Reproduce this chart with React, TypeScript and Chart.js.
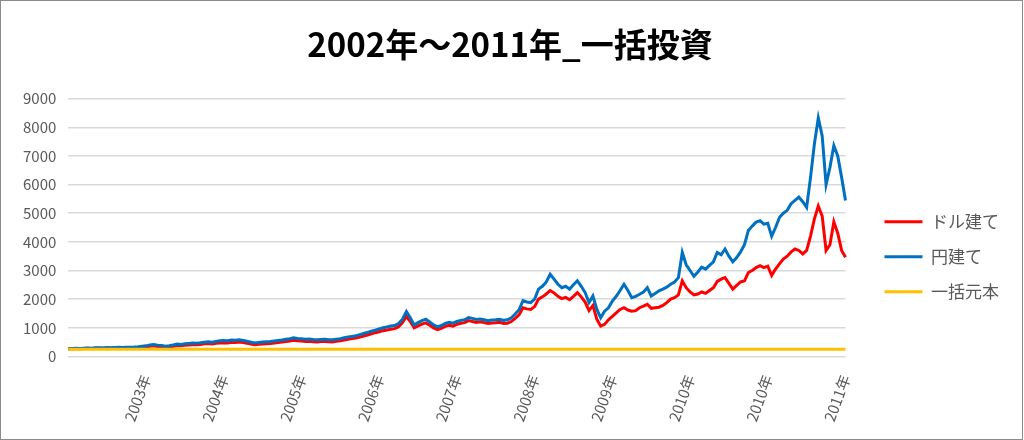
import React, { useEffect, useRef } from "react";
import { Chart, registerables } from "chart.js";

Chart.register(...registerables);

const TITLE = "2002年～2011年_一括投資";
const SERIES_NAMES = ["ドル建て", "円建て", "一括元本"];
const YEAR_TICKS = ["2003年", "2004年", "2005年", "2006年", "2007年", "2008年", "2009年", "2010年", "2010年", "2011年"];
const TICK_INTERVAL = 20;
const PRINCIPAL = 250;

// ドル建て
const USD = [
  265, 268, 275, 272, 280, 283, 278, 285, 290, 284,
  292, 288, 295, 300, 292, 296, 300, 305, 312, 320,
  330, 355, 370, 350, 335, 320, 332, 355, 380, 372,
  390, 400, 412, 408, 420, 440, 450, 435, 458, 470,
  480, 472, 495, 487, 500, 484, 458, 432, 410, 425,
  438, 445, 450, 468, 485, 500, 520, 540, 565, 548,
  535, 522, 530, 515, 508, 520, 525, 512, 508, 528,
  548, 575, 602, 622, 640, 675, 712, 750, 790, 830,
  865, 900, 925, 950, 970, 1040, 1180, 1400, 1220, 1000,
  1070, 1130, 1170, 1090, 1000, 940, 985, 1050, 1090, 1060,
  1120, 1160, 1180, 1250, 1220, 1190, 1210, 1180, 1150, 1170,
  1180, 1190, 1150, 1160, 1220, 1330, 1450, 1700, 1660, 1640,
  1740, 2000, 2080, 2180, 2300, 2220, 2100, 2020, 2060, 1980,
  2100, 2230, 2080, 1900, 1600, 1780, 1300, 1060, 1120, 1280,
  1400, 1520, 1640, 1700, 1620, 1580, 1600, 1700, 1760, 1820,
  1680, 1700, 1720, 1780, 1880, 2000, 2050, 2150, 2640, 2400,
  2250, 2150, 2180, 2250, 2200, 2300, 2400, 2620, 2700, 2750,
  2550, 2350, 2480, 2600, 2640, 2930, 3000, 3100, 3170, 3100,
  3150, 2830, 3050, 3230, 3400, 3500, 3650, 3750, 3700, 3580,
  3700, 4200, 4800, 5250, 4900, 3700, 3900, 4700, 4300, 3700,
  3460,
];

// 円建て
const JPY = [
  270, 275, 285, 280, 290, 295, 288, 300, 305, 298,
  310, 305, 315, 320, 312, 318, 325, 330, 340, 355,
  370, 400, 420, 395, 380, 360, 375, 400, 430, 420,
  440, 455, 470, 465, 480, 500, 510, 495, 520, 545,
  560, 550, 575, 565, 580, 560, 530, 500, 470, 490,
  505, 515, 520, 540, 560, 575, 600, 620, 650, 630,
  615, 600, 610, 590, 580, 595, 600, 585, 580, 600,
  620, 650, 680, 700, 720, 760, 800, 840, 880, 920,
  960, 1000, 1030, 1060, 1080, 1150, 1300, 1570, 1350, 1100,
  1180, 1250, 1300, 1200, 1100, 1030, 1080, 1150, 1190, 1160,
  1220, 1260, 1280, 1360, 1330, 1290, 1310, 1280, 1250, 1270,
  1280, 1300, 1260, 1280, 1350, 1480, 1630, 1950, 1900, 1880,
  2000, 2350, 2450, 2600, 2870, 2700, 2520, 2400, 2450, 2350,
  2500, 2640, 2450, 2230, 1880, 2110, 1650, 1350, 1580, 1700,
  1930, 2100, 2300, 2520, 2300, 2050, 2100, 2170, 2250, 2400,
  2110, 2200, 2290, 2350, 2420, 2520, 2600, 2750, 3630, 3200,
  3000, 2800, 2950, 3120, 3050, 3180, 3300, 3630, 3550, 3750,
  3500, 3300, 3450, 3650, 3900, 4400, 4550, 4690, 4740, 4620,
  4650, 4200, 4500, 4850, 5000, 5100, 5330, 5450, 5560, 5400,
  5200, 6250, 7420, 8330, 7700, 6000, 6600, 7360, 7000, 6250,
  5440,
];

const CATEGORY_LABELS = JPY.map((_, i) =>
  i > 0 && i % TICK_INTERVAL === 0 ? YEAR_TICKS[i / TICK_INTERVAL - 1] : ""
);
const PRINCIPAL_SERIES = JPY.map(() => PRINCIPAL);

const FONT = '"Noto Sans CJK JP", "Noto Sans", sans-serif';
const TICK_COLOR = "#595959";

export default function App() {
  const canvasRef = useRef<HTMLCanvasElement | null>(null);

  useEffect(() => {
    if (!canvasRef.current) return;
    const chart = new Chart(canvasRef.current, {
      type: "line",
      data: {
        labels: CATEGORY_LABELS,
        datasets: [
          {
            label: SERIES_NAMES[2],
            data: PRINCIPAL_SERIES,
            borderColor: "#FFC000",
            backgroundColor: "#FFC000",
            borderWidth: 3,
            pointRadius: 0,
          },
          {
            label: SERIES_NAMES[1],
            data: JPY,
            borderColor: "#0070C0",
            backgroundColor: "#0070C0",
            borderWidth: 3,
            pointRadius: 0,
          },
          {
            label: SERIES_NAMES[0],
            data: USD,
            borderColor: "#FF0000",
            backgroundColor: "#FF0000",
            borderWidth: 3,
            pointRadius: 0,
          },
        ],
      },
      options: {
        animation: false,
        responsive: false,
        devicePixelRatio: 1,
        layout: { padding: { left: 10, right: 13, top: 0, bottom: 7 } },
        plugins: {
          title: {
            display: true,
            text: TITLE,
            color: "#000000",
            font: { family: FONT, size: 33, weight: "bold" },
            padding: { top: 24, bottom: 34 },
          },
          legend: {
            position: "right",
            reverse: true,
            title: { display: true, text: "", padding: { top: 66, bottom: 0 } },
            labels: {
              boxWidth: 38,
              boxHeight: 3,
              padding: 18,
              color: TICK_COLOR,
              font: { family: FONT, size: 17 },
              generateLabels: (c: any) =>
                Chart.defaults.plugins.legend.labels
                  .generateLabels(c)
                  .map((l: any) => ({ ...l, lineWidth: 0 })),
            },
          },
          tooltip: { enabled: false },
        },
        scales: {
          x: {
            grid: { display: false },
            border: { display: false },
            ticks: {
              autoSkip: false,
              maxRotation: 70,
              minRotation: 70,
              padding: 8,
              color: TICK_COLOR,
              font: { family: FONT, size: 15 },
              callback: (_v: any, i: number) => CATEGORY_LABELS[i],
            },
          },
          y: {
            min: 0,
            max: 9000,
            ticks: {
              stepSize: 1000,
              padding: 12,
              color: TICK_COLOR,
              font: { family: FONT, size: 15 },
              callback: (v: any) => String(v),
            },
            grid: { color: "#d9d9d9", lineWidth: 1.5, drawTicks: false },
            border: { display: false },
          },
          y2: {
            type: "linear",
            position: "right",
            grid: { display: false },
            border: { display: false },
            ticks: { display: false },
            afterFit: (s: any) => {
              s.width = 21;
            },
          },
        },
      },
    } as any);
    return () => chart.destroy();
  }, []);

  return (
    <div
      style={{
        position: "absolute",
        left: 0,
        top: 0,
        width: 1023,
        height: 440,
        border: "1px solid #8c8c8c",
        boxSizing: "border-box",
        background: "#ffffff",
      }}
    >
      <canvas ref={canvasRef} width={1021} height={438} style={{ display: "block" }} />
    </div>
  );
}
